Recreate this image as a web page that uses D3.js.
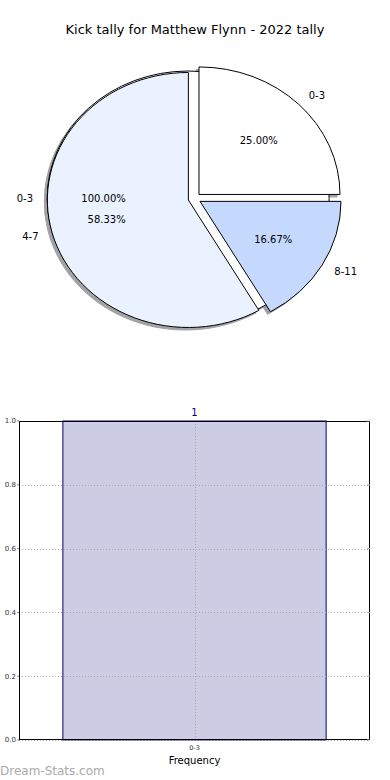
<!DOCTYPE html>
<head>
<meta charset="utf-8">
<title></title>
<style>
body { margin: 0; background: #fff; }
text { font-family: "DejaVu Sans", sans-serif; }
</style>
</head>
<body>
<script src="https://cdn.jsdelivr.net/npm/d3@7/dist/d3.min.js"></script>
<script>

// pie data (the hidden single-slice pie sits below the real one)
var hiddenLabels = ["0-3"];
var hiddenValues = [1];
var pieLabels = ["0-3", "4-7", "8-11"];
var pieValues = [3, 7, 2];
var pieColors = ["#ffffff", "#ebf2ff", "#c5d9ff"];

// bar data
var barCategories = ["0-3"];
var barValues = [1];
var yTicks = [0, 0.2, 0.4, 0.6, 0.8, 1.0];

var width = 390,
    height = 780;

var svg = d3.select("body").append("svg")
    .attr("width", width)
    .attr("height", height);

svg.append("text")
    .attr("x", 195)
    .attr("y", 34)
    .attr("text-anchor", "middle")
    .style("font-size", "13px")
    .text("Kick tally for Matthew Flynn - 2022 tally");

// ---- pie ----
var cx = 194.5, cy = 198.5, rx = 141, ry = 127.5;
var explode = 0.045, labelDist = 1.1, pctDist = 0.6;

var arc = d3.arc().innerRadius(0).outerRadius(1);

// matplotlib style: start at 3 o'clock, go counterclockwise
var pie = d3.pie().sort(null)
    .startAngle(Math.PI / 2)
    .endAngle(Math.PI / 2 - 2 * Math.PI);

function layout(values, labels) {
  var total = d3.sum(values);
  return pie(values).map(function(d, i) {
    var mid = Math.PI / 2 - (d.startAngle + d.endAngle) / 2; // mpl angle
    d.label = labels[i];
    d.color = pieColors[i];
    d.pct = (100 * d.value / total).toFixed(2) + "%";
    d.ox = cx + explode * rx * Math.cos(mid);
    d.oy = cy - explode * ry * Math.sin(mid);
    d.cos = Math.cos(mid);
    d.sin = Math.sin(mid);
    return d;
  });
}

var hidden = layout(hiddenValues, hiddenLabels);
var slices = layout(pieValues, pieLabels);
var all = hidden.concat(slices);

function wedge(g, d, fill, stroke, dx, dy) {
  return g.append("path")
      .attr("d", arc(d))
      .attr("transform", "translate(" + (d.ox + dx) + "," + (d.oy + dy) + ") scale(" + rx + "," + ry + ")")
      .attr("fill", fill)
      .attr("stroke", stroke)
      .attr("stroke-width", 1)
      .attr("vector-effect", "non-scaling-stroke");
}

var shadows = svg.append("g").attr("opacity", 0.5);
all.forEach(function(d) {
  var c = d3.rgb(d.color);
  var dark = d3.rgb(c.r * 0.3, c.g * 0.3, c.b * 0.3);
  wedge(shadows, d, dark, dark, -0.02 * rx, 0.02 * ry);
});

var wedges = svg.append("g");
all.forEach(function(d) {
  wedge(wedges, d, d.color, "#000", 0, 0);
});

var labelsG = svg.append("g").style("font-size", "10px");
all.forEach(function(d) {
  var lx = d.ox + labelDist * rx * d.cos,
      ly = d.oy - labelDist * ry * d.sin;
  labelsG.append("text")
      .attr("x", lx)
      .attr("y", ly)
      .attr("dy", "0.35em")
      .attr("text-anchor", lx > cx ? "start" : "end")
      .text(d.label);
  labelsG.append("text")
      .attr("x", d.ox + pctDist * rx * d.cos)
      .attr("y", d.oy - pctDist * ry * d.sin)
      .attr("dy", "0.35em")
      .attr("text-anchor", "middle")
      .text(d.pct);
});

// ---- bar chart ----
var axLeft = 19, axRight = 370, axTop = 421, axBottom = 740;

var x = d3.scaleBand()
    .domain(barCategories)
    .range([axLeft, axRight])
    .paddingInner(0.25)
    .paddingOuter(0.125);

var y = d3.scaleLinear()
    .domain([0, 1])
    .range([axBottom, axTop]);

var bars = svg.append("g");
bars.selectAll("rect")
    .data(barValues)
    .enter().append("rect")
    .attr("x", function(d, i) { return x(barCategories[i]); })
    .attr("y", function(d) { return y(d); })
    .attr("width", x.bandwidth())
    .attr("height", function(d) { return y(0) - y(d); })
    .attr("fill", "#ccccE5")
    .attr("stroke", "#000080")
    .attr("stroke-width", 1);

// grid
var grid = svg.append("g")
    .attr("stroke", "#aaa")
    .attr("stroke-width", 1)
    .attr("stroke-dasharray", "1,2");
yTicks.forEach(function(t) {
  grid.append("line")
      .attr("x1", axLeft).attr("x2", axRight)
      .attr("y1", Math.round(y(t)) + 0.5).attr("y2", Math.round(y(t)) + 0.5);
});
barCategories.forEach(function(c) {
  var cxb = Math.round(x(c) + x.bandwidth() / 2) + 0.5;
  grid.append("line")
      .attr("x1", cxb).attr("x2", cxb)
      .attr("y1", axTop).attr("y2", axBottom);
});

// frame
svg.append("rect")
    .attr("x", axLeft + 0.5)
    .attr("y", axTop + 0.5)
    .attr("width", axRight - axLeft - 1)
    .attr("height", axBottom - axTop - 1)
    .attr("fill", "none")
    .attr("stroke", "#000")
    .attr("stroke-width", 1);

// y ticks
var yAxis = svg.append("g").style("font-size", "7px").attr("fill", "#333");
yTicks.forEach(function(t) {
  yAxis.append("text")
      .attr("x", axLeft - 3)
      .attr("y", y(t))
      .attr("dy", "0.35em")
      .attr("text-anchor", "end")
      .text(t.toFixed(1));
  yAxis.append("line")
      .attr("x1", axLeft).attr("x2", axLeft - 2)
      .attr("y1", y(t)).attr("y2", y(t))
      .attr("stroke", "#888");
  yAxis.append("line")
      .attr("x1", axRight - 3).attr("x2", axRight)
      .attr("y1", y(t)).attr("y2", y(t))
      .attr("stroke", "#aaa");
});

// x ticks
barCategories.forEach(function(c) {
  svg.append("text")
      .attr("x", x(c) + x.bandwidth() / 2)
      .attr("y", 750)
      .attr("text-anchor", "middle")
      .style("font-size", "6.5px")
      .attr("fill", "#333")
      .text(c);
});

// value labels
barValues.forEach(function(v, i) {
  svg.append("text")
      .attr("x", x(barCategories[i]) + x.bandwidth() / 2)
      .attr("y", y(v) - 5)
      .attr("text-anchor", "middle")
      .style("font-size", "10px")
      .attr("fill", "#000080")
      .text(v);
});

svg.append("text")
    .attr("x", 194.5)
    .attr("y", 764)
    .attr("text-anchor", "middle")
    .style("font-size", "10px")
    .text("Frequency");

svg.append("text")
    .attr("x", 0)
    .attr("y", 775)
    .style("font-size", "12px")
    .attr("fill", "#aaa")
    .text("Dream-Stats.com");

</script>
</body>
</html>
